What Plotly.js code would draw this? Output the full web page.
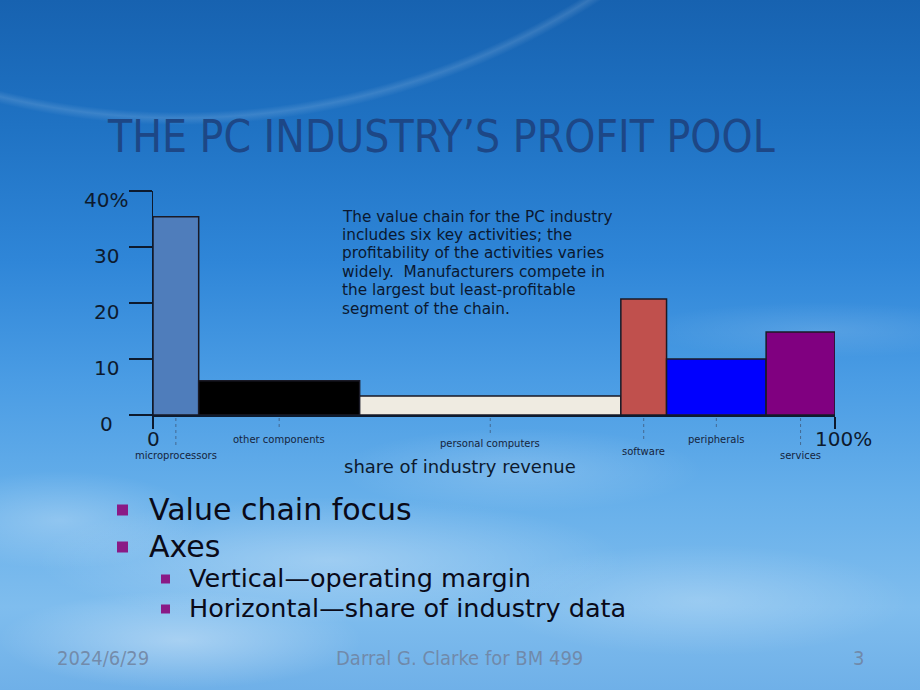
<!DOCTYPE html>
<html>
<head>
<meta charset="utf-8">
<script src="https://cdn.plot.ly/plotly-3.0.1.min.js"></script>
<style>
html, body { margin:0; padding:0; width:920px; height:690px; overflow:hidden; }
body {
  background:
    radial-gradient(ellipse 260px 70px at 180px 640px, rgba(255,255,255,0.35), rgba(255,255,255,0) 70%),
    radial-gradient(ellipse 420px 90px at 330px 560px, rgba(255,255,255,0.30), rgba(255,255,255,0) 70%),
    radial-gradient(ellipse 300px 80px at 700px 600px, rgba(255,255,255,0.22), rgba(255,255,255,0) 70%),
    radial-gradient(ellipse 260px 60px at 520px 470px, rgba(255,255,255,0.18), rgba(255,255,255,0) 70%),
    radial-gradient(ellipse 200px 70px at 60px 520px, rgba(255,255,255,0.25), rgba(255,255,255,0) 70%),
    radial-gradient(ellipse 260px 40px at 820px 330px, rgba(255,255,255,0.12), rgba(255,255,255,0) 70%),
    radial-gradient(circle at 180px -650px, rgba(255,255,255,0) 762px, rgba(255,255,255,0.13) 768px, rgba(255,255,255,0) 775px),
    linear-gradient(to bottom, #1762b0 0%, #1f72c3 18%, #2f86d8 38%, #4a9ce4 55%, #66afea 72%, #7fbdee 88%, #6fb0e8 100%);
}
#chart { width:920px; height:690px; }
</style>
</head>
<body>
<div id="chart"></div>
<script>
// ---- data ----
const categories = ["microprocessors", "other components", "personal computers", "software", "peripherals", "services"];
const revenueShare = [6.7, 23.6, 38.3, 6.7, 14.6, 10.1];   // % of industry revenue (bar widths)
const operatingMargin = [35.4, 6.1, 3.4, 20.7, 10.0, 14.8]; // % operating margin (bar heights)
const yTickValues = [0, 10, 20, 30, 40];
const yTickLabels = ["0", "10", "20", "30", "40%"];
const xTickValues = [0, 100];
const xTickLabels = ["0", "100%"];
const noteLines = [
  "The value chain for the PC industry",
  "includes six key activities; the",
  "profitability of the activities varies",
  "widely.  Manufacturers compete in",
  "the largest but least-profitable",
  "segment of the chain."
];

// ---- styles ----
const barColors = ["#4f7dbb", "#000000", "#efebe1", "#c0504d", "#0000ff", "#800080"];
const labelDrop = [40, 24, 28, 36, 24, 40]; // px below axis for category labels
const dark = "#0d1a2e";
const FONT = "DejaVu Sans, Verdana, sans-serif";
const COND = "DejaVu Sans Condensed, DejaVu Sans, sans-serif";

// plot area geometry in pixels
const L = 153, R = 835, T = 191, B = 415;
const px = X => (X - L) / (R - L);
const py = Y => (B - Y) / (B - T);

// bar centres from cumulative widths
const centers = [];
let acc = 0;
revenueShare.forEach(w => { centers.push(acc + w / 2); acc += w; });

const trace = {
  type: "bar",
  x: centers,
  y: operatingMargin,
  width: revenueShare,
  marker: { color: barColors, line: { color: "#1a1a26", width: 1.5 } },
  hoverinfo: "skip",
  showlegend: false
};

const annotations = [];
const shapes = [];

// y tick labels
yTickValues.forEach((v, i) => {
  annotations.push({
    xref: "paper", yref: "y", x: px(106), y: v, yshift: -9,
    xanchor: "center", yanchor: "middle", showarrow: false,
    text: yTickLabels[i], font: { family: FONT, size: 20, color: dark }
  });
});

// x tick labels
const xLabelPos = [153, 843];
xTickValues.forEach((v, i) => {
  annotations.push({
    xref: "paper", yref: "paper", x: px(xLabelPos[i]), y: py(439),
    xanchor: "center", yanchor: "middle", showarrow: false,
    text: xTickLabels[i], font: { family: FONT, size: 20, color: dark }
  });
});

// category labels + dotted guide lines
categories.forEach((c, i) => {
  annotations.push({
    xref: "x", yref: "paper", x: centers[i], y: 0, yshift: -labelDrop[i],
    xanchor: "center", yanchor: "middle", showarrow: false,
    text: c, font: { family: FONT, size: 10, color: "#15243c" }
  });
  shapes.push({
    type: "line", xref: "x", yref: "paper",
    x0: centers[i], x1: centers[i], y0: py(B + 3), y1: py(B + labelDrop[i] - 9),
    line: { color: "rgba(60,80,110,0.7)", width: 1, dash: "dot" }
  });
});

// x axis title
annotations.push({
  xref: "paper", yref: "paper", x: px(460), y: py(466),
  xanchor: "center", yanchor: "middle", showarrow: false,
  text: "share of industry revenue", font: { family: FONT, size: 18, color: dark }
});

// text box, one line at a time
noteLines.forEach((t, i) => {
  annotations.push({
    xref: "paper", yref: "paper", x: px(340), y: py(216.5 + i * 18.4),
    xanchor: "left", yanchor: "middle", align: "left", showarrow: false,
    text: t, font: { family: FONT, size: 15.3, color: "#0a1830" }
  });
});

// bullets
const bullets = [
  { text: "Value chain focus", x: 147, y: 509, size: 30, bx: 117, bs: 11 },
  { text: "Axes", x: 147, y: 546, size: 30, bx: 117, bs: 11 },
  { text: "Vertical\u2014operating margin", x: 187, y: 578, size: 25.5, bx: 161, bs: 9 },
  { text: "Horizontal\u2014share of industry data", x: 187, y: 608, size: 25.5, bx: 161, bs: 9 }
];
bullets.forEach(b => {
  annotations.push({
    xref: "paper", yref: "paper", x: px(b.x), y: py(b.y),
    xanchor: "left", yanchor: "middle", showarrow: false,
    text: b.text, font: { family: FONT, size: b.size, color: "#0a0a18" }
  });
  shapes.push({
    type: "rect", xref: "paper", yref: "paper",
    x0: px(b.bx), x1: px(b.bx + b.bs), y0: py(b.y + 1 + b.bs / 2), y1: py(b.y + 1 - b.bs / 2),
    fillcolor: "#8a1a86", line: { width: 0 }
  });
});

// footer
const footer = [
  { text: "2024/6/29", x: 55, anchor: "left" },
  { text: "Darral G. Clarke for BM 499", x: 459, anchor: "center" },
  { text: "3", x: 858, anchor: "center" }
];
footer.forEach(f => {
  annotations.push({
    xref: "paper", yref: "paper", x: px(f.x), y: py(658),
    xanchor: f.anchor, yanchor: "middle", showarrow: false,
    text: f.text, font: { family: COND, size: 20, color: "rgba(112,130,158,0.85)" }
  });
});

const layout = {
  width: 920, height: 690,
  margin: { l: L, r: 920 - R, t: T, b: 690 - B, pad: 0 },
  paper_bgcolor: "rgba(0,0,0,0)",
  plot_bgcolor: "rgba(0,0,0,0)",
  title: {
    text: "THE PC INDUSTRY\u2019S PROFIT POOL",
    xref: "container", yref: "container", x: 108 / 920, y: 1 - 137 / 690,
    xanchor: "left", yanchor: "middle",
    font: { family: COND, size: 44, color: "#1d4786" }
  },
  xaxis: {
    range: [0, 100], showgrid: false, zeroline: false,
    showline: true, linecolor: dark, linewidth: 1.5,
    ticks: "outside", ticklen: 12, tickwidth: 1.5, tickcolor: dark,
    tickvals: xTickValues, showticklabels: false, fixedrange: true
  },
  yaxis: {
    range: [0, 40], showgrid: false, zeroline: false,
    showline: true, linecolor: dark, linewidth: 1.5,
    ticks: "outside", ticklen: 23, tickwidth: 1.5, tickcolor: dark,
    tickvals: yTickValues, showticklabels: false, fixedrange: true
  },
  bargap: 0,
  annotations: annotations,
  shapes: shapes,
  showlegend: false
};

Plotly.newPlot("chart", [trace], layout, { staticPlot: true, displayModeBar: false });
</script>
</body>
</html>
